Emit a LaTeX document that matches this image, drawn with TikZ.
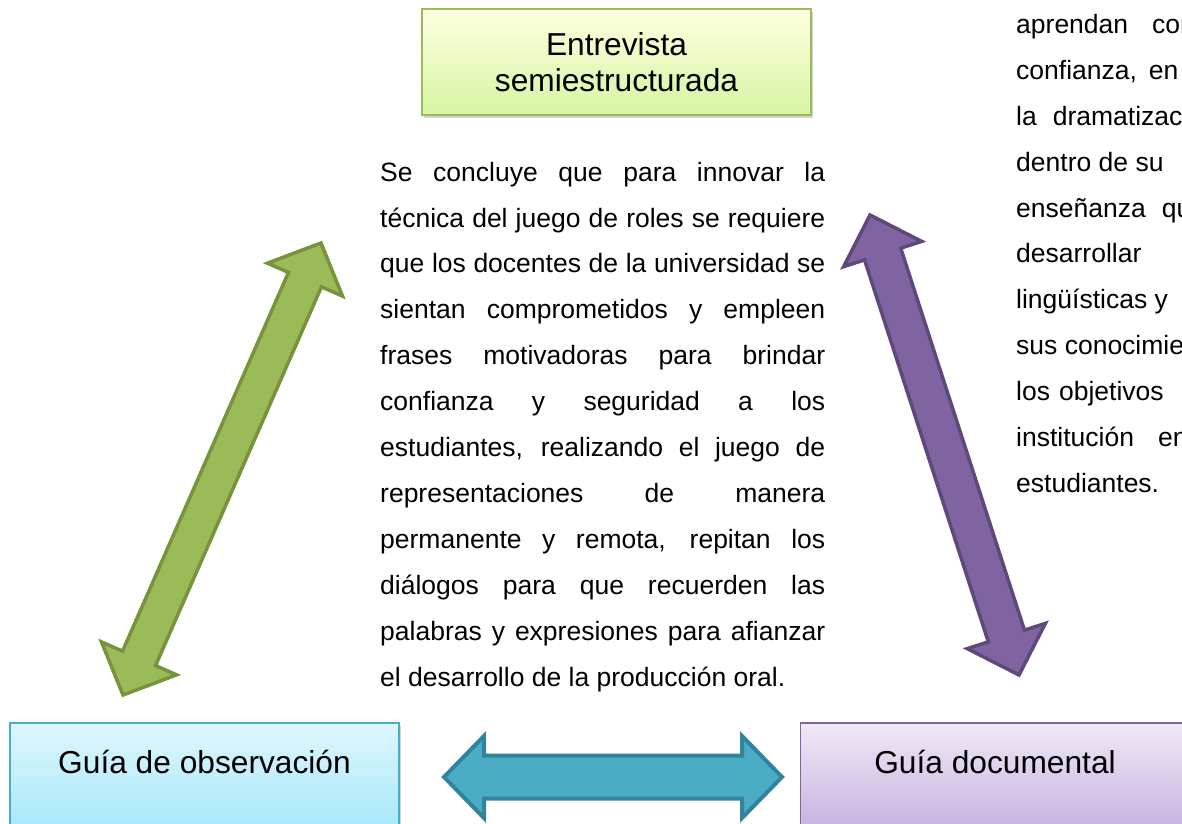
\documentclass[tikz,border=0pt]{standalone}
\usepackage{fontspec}
\setmainfont{Liberation Sans}
\usetikzlibrary{calc,shadows}

\definecolor{verde}{HTML}{9BBB59}
\definecolor{verdeosc}{HTML}{77933C}
\definecolor{morado}{HTML}{8064A2}
\definecolor{moradoosc}{HTML}{5F497A}
\definecolor{celeste}{HTML}{4BACC6}
\definecolor{celesteosc}{HTML}{31849B}

% flecha doble gruesa: estilo, punta 1, punta 2, medio cuerpo, media cabeza, largo cabeza
\newcommand{\dblarrow}[6]{%
  \coordinate (da1) at ($(#2)!#6!(#3)$);
  \coordinate (da2) at ($(#3)!#6!(#2)$);
  \draw[#1] (#2) -- ($(da1)!#5!90:(#3)$) -- ($(da1)!#4!90:(#3)$)
    -- ($(da2)!#4!-90:(#2)$) -- ($(da2)!#5!-90:(#2)$) -- (#3)
    -- ($(da2)!#5!90:(#2)$) -- ($(da2)!#4!90:(#2)$)
    -- ($(da1)!#4!-90:(#3)$) -- ($(da1)!#5!-90:(#3)$) -- cycle;}

\newcommand{\renglon}[1]{\makebox[445pt][s]{#1}}

\begin{document}
\begin{tikzpicture}[line join=miter,x=1pt,y=-1pt,
  caja/.style={draw,line width=1.5pt,minimum width=389pt,inner xsep=0pt,
    font=\fontsize{31.7}{36}\selectfont,align=center},
  cajabaja/.style={caja,anchor=north,text height=23pt,text depth=60pt,inner ysep=27.7pt},
  texto/.style={font=\fontsize{26.5}{45.9}\selectfont,inner sep=0pt,anchor=north west,align=left},
  sombra/.style={drop shadow={shadow xshift=2pt,shadow yshift=-3pt,opacity=.35}}]
\useasboundingbox (0,0) rectangle (1182,823);
\clip (0,0) rectangle (1182,823);

% cajas
\node[caja,draw=verde,top color=green!4!yellow!12,bottom color={rgb,255:red,214;green,244;blue,162},
  minimum height=106pt,sombra] (entrevista) at (616.5,62) {Entrevista\\semiestructurada};
\node[cajabaja,draw=celeste,top color={rgb,255:red,223;green,246;blue,253},
  bottom color={rgb,255:red,149;green,228;blue,250},sombra] (observacion) at (204.5,722) {Guía de observación};
\node[cajabaja,draw=morado,top color={rgb,255:red,239;green,233;blue,246},
  bottom color={rgb,255:red,187;green,162;blue,217},sombra] (documental) at (995,722) {Guía documental};

% textos
\node[texto] (conclusion) at (380,161.7) {%
\renglon{Se concluye que para innovar la}\\
\renglon{técnica del juego de roles se requiere}\\
\renglon{que los docentes de la universidad se}\\
\renglon{sientan comprometidos y empleen}\\
\renglon{frases motivadoras para brindar}\\
\renglon{confianza y seguridad a los}\\
\renglon{estudiantes, realizando el juego de}\\
\renglon{representaciones de manera}\\
\renglon{permanente y remota, repitan los}\\
\renglon{diálogos para que recuerden las}\\
\renglon{palabras y expresiones para afianzar}\\
el desarrollo de la producción oral.};

\node[texto] (documento) at (1016,14) {%
aprendan\hspace{24pt}con\\
confianza,\hspace{12pt}en\\
la\hspace{16pt}dramatización\\
dentro de su\\
enseñanza\hspace{16pt}que\\
desarrollar\\
lingüísticas y\\
sus conocimientos\\
los\hspace{9pt}objetivos\\
institución\hspace{24pt}en\\
estudiantes.};

% flechas
\coordinate (g1) at (123,695);
\coordinate (g2) at (321,243);
\coordinate (p1) at (870,215);
\coordinate (p2) at (1019,675);
\coordinate (c1) at (444,777);
\coordinate (c2) at (782,777);
\dblarrow{fill=verde,draw=verdeosc,line width=3.5pt}{g1}{g2}{18pt}{41pt}{40pt}
\dblarrow{fill=morado,draw=moradoosc,line width=3.5pt}{p1}{p2}{19pt}{41pt}{41pt}
\dblarrow{fill=celeste,draw=celesteosc,line width=4pt}{c1}{c2}{21.5pt}{41pt}{40pt}
\end{tikzpicture}
\end{document}
